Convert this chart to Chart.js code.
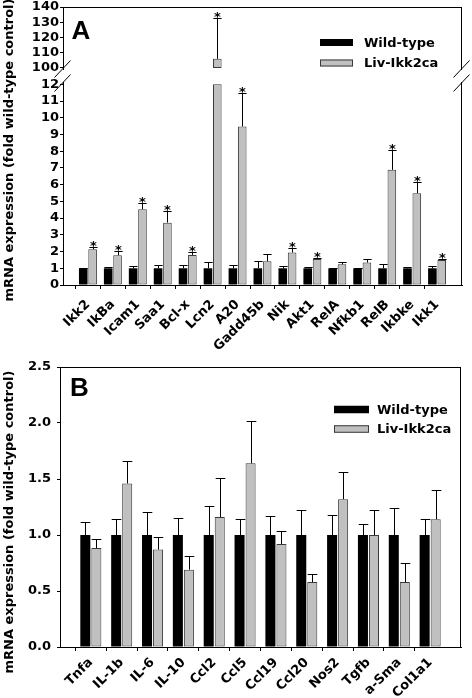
<!DOCTYPE html>
<html>
<head>
<meta charset="utf-8">
<script src="https://cdn.jsdelivr.net/npm/chart.js@4.4.1/dist/chart.umd.min.js"></script>
<style>
  html, body { margin: 0; padding: 0; background: #fff; }
  #wrap { position: relative; width: 472px; height: 698px; overflow: hidden; }
  .panel { position: absolute; left: 0; width: 472px; }
  #panelA { top: 0; height: 350px; }
  #panelB { top: 350px; height: 348px; }
</style>
</head>
<body>
<div id="wrap">
  <div class="panel" id="panelA"><canvas id="chartA" width="472" height="350"></canvas></div>
  <div class="panel" id="panelB"><canvas id="chartB" width="472" height="348"></canvas></div>
</div>
<script>
// ---- panel A: NF-kB pathway genes ----
const genesA = ['Ikk2', 'IkBa', 'Icam1', 'Saa1', 'Bcl-x', 'Lcn2', 'A20', 'Gadd45b', 'Nik', 'Akt1', 'RelA', 'Nfkb1', 'RelB', 'Ikbke', 'Ikk1'];
const wtA = [1, 1, 1, 1, 1, 1, 1, 1, 1, 1, 1, 1, 1, 1, 1];
const wtErrA = [0.03, 0.1, 0.14, 0.22, 0.2, 0.36, 0.2, 0.46, 0.14, 0.08, 0.03, 0.03, 0.24, 0.1, 0.12];
const koA = [2.14, 1.78, 4.53, 3.73, 1.8, 106, 9.48, 1.42, 1.94, 1.56, 1.24, 1.34, 6.89, 5.49, 1.5];
const koErrA = [0.12, 0.24, 0.36, 0.72, 0.16, 27, 2.0, 0.45, 0.26, 0.06, 0.12, 0.2, 1.18, 0.66, 0.08];
const sigA = [true, true, true, true, true, true, true, false, true, true, false, false, true, true, true];
const ticksLowA = [0, 1, 2, 3, 4, 5, 6, 7, 8, 9, 10, 11, 12];
const ticksHighA = [100, 110, 120, 130, 140];
// broken axis: lower part 0-12, upper part 100-140
const lowTopA = 12, highBaseA = 100;

// ---- panel B: inflammation / fibrosis genes ----
const genesB = ['Tnfa', 'IL-1b', 'IL-6', 'IL-10', 'Ccl2', 'Ccl5', 'Ccl19', 'Ccl20', 'Nos2', 'Tgfb', 'a-Sma', 'Col1a1'];
const wtB = [1, 1, 1, 1, 1, 1, 1, 1, 1, 1, 1, 1];
const wtErrB = [0.12, 0.14, 0.205, 0.155, 0.26, 0.14, 0.17, 0.22, 0.18, 0.1, 0.245, 0.14];
const koB = [0.884, 1.46, 0.87, 0.69, 1.16, 1.64, 0.92, 0.58, 1.32, 1.0, 0.58, 1.14];
const koErrB = [0.076, 0.2, 0.11, 0.12, 0.35, 0.38, 0.12, 0.07, 0.24, 0.22, 0.17, 0.265];
const ticksB = [0, 0.5, 1, 1.5, 2, 2.5];

const yTitle = 'mRNA expression (fold wild-type control)';
const BLACK = '#000000', GREY = '#c0c0c0', EDGE = '#3a3a3a';

Chart.defaults.font.family = 'DejaVu Sans';
Chart.defaults.font.size = 13;
Chart.defaults.font.weight = 'bold';
Chart.defaults.color = '#000';
Chart.defaults.animation = false;

// one empty slot on each side of the categories
const pad = arr => [null, ...arr, null];
const padLabels = arr => ['', ...arr, ''];

// error bars + significance stars, drawn with the dataset's own y scale
const errorBars = {
  id: 'errorBars',
  afterDatasetsDraw(chart) {
    const ctx = chart.ctx;
    ctx.save();
    ctx.strokeStyle = '#000';
    ctx.fillStyle = '#000';
    ctx.lineWidth = 1;
    ctx.font = 'bold 13px "DejaVu Sans"';
    ctx.textAlign = 'center';
    ctx.textBaseline = 'alphabetic';
    chart.data.datasets.forEach((ds, di) => {
      if (!ds.errors) return;
      const meta = chart.getDatasetMeta(di);
      const scale = chart.scales[meta.yAxisID];
      meta.data.forEach((bar, i) => {
        const v = ds.data[i], err = ds.errors[i];
        if (v == null || err == null) return;
        const top = Array.isArray(v) ? v[1] : v;
        const y = Math.round(scale.getPixelForValue(top + err)) + 0.5;
        const x = Math.round(bar.x) + 0.5;
        const half = bar.width * 0.48;
        ctx.beginPath();
        ctx.moveTo(x, bar.y);
        ctx.lineTo(x, y);
        ctx.moveTo(x - half, y);
        ctx.lineTo(x + half, y);
        ctx.stroke();
        if (ds.stars && ds.stars[i]) ctx.fillText('*', x, y + 2);
      });
    });
    ctx.restore();
  }
};

// box frame, axis break marks, legend, panel letter, y title
const frame = {
  id: 'frame',
  afterDraw(chart, args, o) {
    const ctx = chart.ctx, a = chart.chartArea;
    ctx.save();
    ctx.strokeStyle = '#000';
    ctx.lineWidth = 1;
    ctx.beginPath();
    ctx.moveTo(a.left, a.top + 0.5);
    ctx.lineTo(a.right, a.top + 0.5);
    ctx.moveTo(a.right - 0.5, a.top);
    ctx.lineTo(a.right - 0.5, a.bottom);
    ctx.stroke();

    if (o.breakAxis) {
      const s = chart.scales[o.breakAxis].bottom;
      ctx.fillStyle = '#fff';
      [a.left - 0.5, a.right - 0.5].forEach(x => {
        ctx.fillRect(x - 2, s - 6, 4, 12);
        ctx.beginPath();
        [-7, 7].forEach(dy => {
          ctx.moveTo(x - 8, s + dy + 8.5);
          ctx.lineTo(x + 8, s + dy - 8.5);
        });
        ctx.stroke();
      });
    }

    const lg = o.legend;
    ctx.font = 'bold 13px "DejaVu Sans"';
    ctx.textAlign = 'left';
    ctx.textBaseline = 'middle';
    [0, 1].forEach(k => {
      const ds = chart.data.datasets[k];
      const cy = lg.y + k * lg.gap;
      ctx.fillStyle = ds.backgroundColor;
      ctx.fillRect(lg.x, cy - lg.h / 2, lg.w, lg.h);
      if (ds.borderWidth) {
        ctx.strokeStyle = ds.borderColor;
        ctx.strokeRect(lg.x + 0.5, cy - lg.h / 2 + 0.5, lg.w - 1, lg.h - 1);
      }
      ctx.fillStyle = '#000';
      ctx.fillText(ds.label, lg.textX, cy + 1);
    });

    ctx.font = 'bold 26px "Liberation Sans"';
    ctx.textBaseline = 'alphabetic';
    ctx.fillText(o.letter.text, o.letter.x, o.letter.y);

    ctx.font = 'bold 13px "DejaVu Sans"';
    ctx.textAlign = 'center';
    ctx.textBaseline = 'middle';
    ctx.translate(o.title.x, o.title.y);
    ctx.rotate(-Math.PI / 2);
    ctx.fillText(yTitle, 0, 0);
    ctx.restore();
  }
};

function xAxis(count, height, padding) {
  return {
    type: 'category',
    offset: false,
    grid: {
      drawOnChartArea: false,
      tickLength: 4,
      color: c => (c.index === 0 || c.index === count + 1) ? 'rgba(0,0,0,0)' : '#000'
    },
    border: { color: '#000' },
    ticks: { autoSkip: false, minRotation: 45, maxRotation: 45, padding: padding },
    afterFit: s => { s.height = height; s.paddingLeft = 0; s.paddingRight = 0; }
  };
}

function yAxis(opts, tickVals, width, padding, fmt) {
  return Object.assign({
    type: 'linear',
    position: 'left',
    stacked: false,
    grid: { drawOnChartArea: false, tickLength: 3, color: '#000' },
    border: { color: '#000' },
    ticks: { padding: padding, autoSkip: false, callback: fmt || (v => v) },
    afterBuildTicks: s => { s.ticks = tickVals.map(v => ({ value: v })); },
    afterFit: s => { s.width = width; s.paddingTop = 0; s.paddingBottom = 0; }
  }, opts);
}

new Chart(document.getElementById('chartA'), {
  type: 'bar',
  data: {
    labels: padLabels(genesA),
    datasets: [{
      label: 'Wild-type',
      data: pad(wtA),
      errors: pad(wtErrA),
      backgroundColor: BLACK,
      borderWidth: 0,
      stack: 'wt',
      yAxisID: 'yLow',
      categoryPercentage: 0.75,
      barPercentage: 0.92
    }, {
      label: 'Liv-Ikk2ca',
      data: pad(koA.map(v => Math.min(v, lowTopA))),
      errors: pad(koErrA.map((e, i) => koA[i] > lowTopA ? null : e)),
      stars: pad(sigA.map((s, i) => koA[i] > lowTopA ? false : s)),
      backgroundColor: GREY,
      borderColor: EDGE,
      borderWidth: 1,
      borderSkipped: false,
      stack: 'ko',
      yAxisID: 'yLow',
      categoryPercentage: 0.75,
      barPercentage: 0.92
    }, {
      label: 'Liv-Ikk2ca',
      data: pad(koA.map(v => v > lowTopA ? [highBaseA, v] : null)),
      errors: pad(koErrA),
      stars: pad(sigA),
      backgroundColor: GREY,
      borderColor: EDGE,
      borderWidth: 1,
      borderSkipped: false,
      stack: 'ko',
      yAxisID: 'yHigh',
      categoryPercentage: 0.75,
      barPercentage: 0.92
    }]
  },
  options: {
    responsive: false,
    devicePixelRatio: 1,
    layout: { padding: { left: 0, right: 10, top: 7, bottom: 0 } },
    scales: {
      x: xAxis(genesA.length, 65, 8),
      yLow: yAxis({ stack: 'a', stackWeight: 209, min: 0, max: 12.5 }, ticksLowA, 63, 1),
      yHigh: yAxis({ stack: 'a', stackWeight: 69, min: 94.75, max: 140 }, ticksHighA, 63, 1)
    },
    plugins: {
      legend: { display: false },
      tooltip: { enabled: false },
      frame: {
        breakAxis: 'yHigh',
        legend: { x: 320, y: 42.5, gap: 20.5, w: 33, h: 7, textX: 364 },
        letter: { text: 'A', x: 71.5, y: 39 },
        title: { x: 10, y: 150 }
      }
    }
  },
  plugins: [errorBars, frame]
});

new Chart(document.getElementById('chartB'), {
  type: 'bar',
  data: {
    labels: padLabels(genesB),
    datasets: [{
      label: 'Wild-type',
      data: pad(wtB),
      errors: pad(wtErrB),
      backgroundColor: BLACK,
      borderWidth: 0,
      stack: 'wt',
      categoryPercentage: 0.715,
      barPercentage: 0.91
    }, {
      label: 'Liv-Ikk2ca',
      data: pad(koB),
      errors: pad(koErrB),
      backgroundColor: GREY,
      borderColor: EDGE,
      borderWidth: 1,
      borderSkipped: false,
      stack: 'ko',
      categoryPercentage: 0.715,
      barPercentage: 0.91
    }]
  },
  options: {
    responsive: false,
    devicePixelRatio: 1,
    layout: { padding: { left: 0, right: 11, top: 17, bottom: 0 } },
    scales: {
      x: xAxis(genesB.length, 51, 4),
      y: yAxis({ min: 0, max: 2.5 }, ticksB, 60, 6, v => v.toFixed(1))
    },
    plugins: {
      legend: { display: false },
      tooltip: { enabled: false },
      frame: {
        legend: { x: 334, y: 59.5, gap: 19.5, w: 35, h: 7.5, textX: 377 },
        letter: { text: 'B', x: 70, y: 46 },
        title: { x: 10, y: 172 }
      }
    }
  },
  plugins: [errorBars, frame]
});
</script>
</body>
</html>
